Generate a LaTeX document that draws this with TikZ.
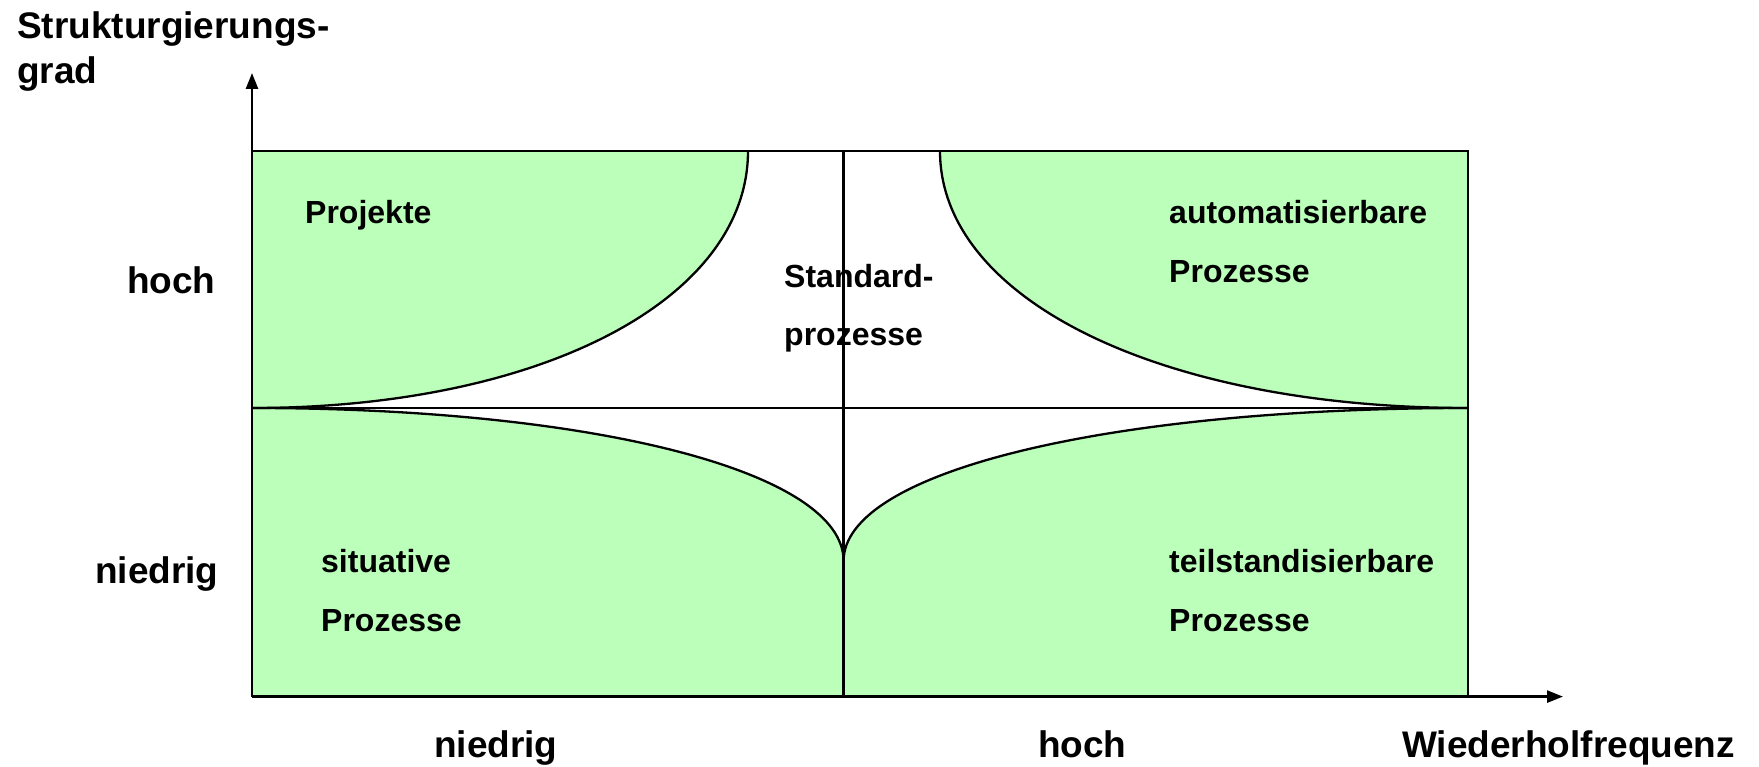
\documentclass[tikz,border=0pt]{standalone}
\usepackage{fontspec}
\setmainfont{Liberation Sans}
\usetikzlibrary{arrows.meta}
\definecolor{zone}{RGB}{187,255,187}
\begin{document}
\begin{tikzpicture}[x=1pt,y=-1pt,
  grid/.style={line width=2.3pt},
  border/.style={line width=2.8pt},
  axis/.style={line width=2.6pt,-{Triangle[length=16pt,width=12pt]}},
  zonefill/.style={fill=zone,draw=none},
  big/.style={font=\bfseries\fontsize{37}{44}\selectfont,inner sep=0pt,anchor=base west},
  small/.style={font=\bfseries\fontsize{32}{38}\selectfont,inner sep=0pt,anchor=base west}]
\useasboundingbox (0,0) rectangle (1759,767);

% corners and reference points of the grid
\coordinate (tl) at (252,151);
\coordinate (tm) at (843.6,151);
\coordinate (tr) at (1468,151);
\coordinate (ml) at (252,408);
\coordinate (mr) at (1468,408);
\coordinate (bl) at (252,696.6);
\coordinate (bm) at (843.6,696.6);
\coordinate (br) at (1468,696.6);
\coordinate (cusp) at (843.6,561);
\coordinate (tlend) at (748,151);
\coordinate (trend) at (940,151);
\coordinate (ytip) at (252,73);
\coordinate (xtip) at (1563,696.6);

% green zones
\fill[zonefill] (tl) -- (tlend) .. controls (748,300) and (540,408) .. (ml) -- cycle;
\fill[zonefill] (trend) .. controls (940,300) and (1162,408) .. (mr) -- (tr) -- cycle;
\fill[zonefill] (ml) .. controls (595,408) and (843.6,472) .. (cusp) -- (bm) -- (bl) -- cycle;
\fill[zonefill] (cusp) .. controls (843.6,472) and (1106,408) .. (mr) -- (br) -- (bm) -- cycle;

% boundary curves
\draw[grid] (tlend) .. controls (748,300) and (540,408) .. (ml);
\draw[grid] (trend) .. controls (940,300) and (1162,408) .. (mr);
\draw[grid] (ml) .. controls (595,408) and (843.6,472) .. (cusp);
\draw[grid] (cusp) .. controls (843.6,472) and (1106,408) .. (mr);

% grid lines and frame
\draw[grid] (tm) -- (bm);
\draw[grid] (ml) -- (mr);
\draw[border] (tl) -- (tr) -- (br);

% axes
\draw[axis] (bl) -- (ytip);
\draw[axis] (bl) -- (xtip);

% region labels
\node[small] (projekte) at (305,224) {Projekte};
\node[small] (auto1) at (1169,224) {automatisierbare};
\node[small] (auto2) at (1169,283) {Prozesse};
\node[small] (std1) at (784,288) {Standard-};
\node[small] (std2) at (784,345) {prozesse};
\node[small] (sit1) at (321,572) {situative};
\node[small] (sit2) at (321,631) {Prozesse};
\node[small] (teil1) at (1169,572) {teilstandisierbare};
\node[small] (teil2) at (1169,631) {Prozesse};

% axis labels
\node[big] (yhoch) at (127,294) {hoch};
\node[big] (yniedrig) at (95,583) {niedrig};
\node[big] (xniedrig) at (434,757) {niedrig};
\node[big] (xhoch) at (1038,757) {hoch};
\node[big] (xtitle) at (1402,757) {Wiederholfrequenz};
\node[big] (ytitle1) at (17,39) {Strukturgierungs-};
\node[big] (ytitle2) at (17,84) {grad};
\end{tikzpicture}
\end{document}
